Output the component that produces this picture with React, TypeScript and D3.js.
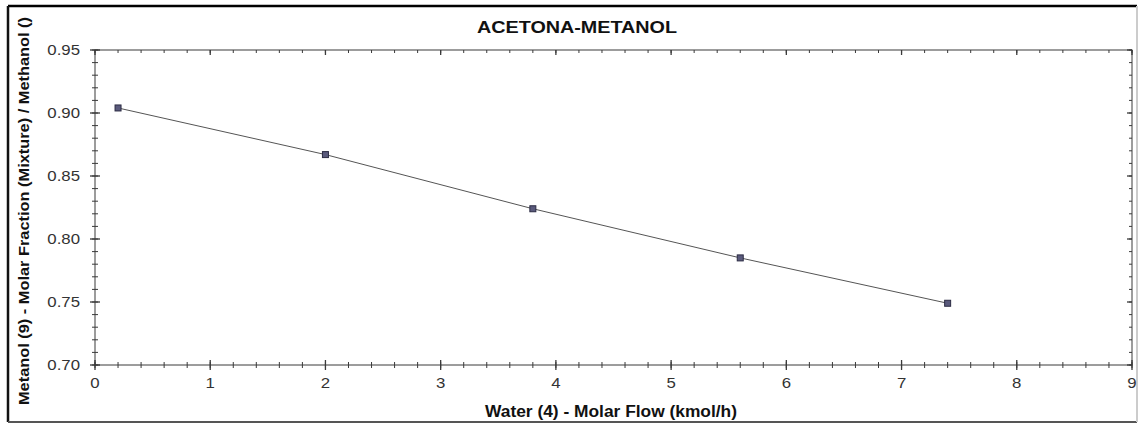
import React from 'react';
import * as d3 from 'd3';

// Data
const waterFlow = [0.2, 2.0, 3.8, 5.6, 7.4];
const metanolFraction = [0.904, 0.867, 0.824, 0.785, 0.749];
const xTickLabels = ['0', '1', '2', '3', '4', '5', '6', '7', '8', '9'];
const yTickLabels = ['0.70', '0.75', '0.80', '0.85', '0.90', '0.95'];

const title = 'ACETONA-METANOL';
const xTitle = 'Water (4) - Molar Flow (kmol/h)';
const yTitle = 'Metanol (9) - Molar Fraction (Mixture) / Methanol ()';

const W = 1140;
const H = 424;
const margin = { top: 50, right: 8, bottom: 59, left: 95 };
const font = '"Liberation Sans", Arial, sans-serif';

export default function App() {
  const x = d3.scaleLinear().domain([0, 9]).range([margin.left, W - margin.right]);
  const y = d3.scaleLinear().domain([0.7, 0.95]).range([H - margin.bottom, margin.top]);

  const [x0, x1] = x.range();
  const [y0, y1] = y.range(); // y0 bottom, y1 top

  const xMajor = xTickLabels.map(Number);
  const xMinor = d3.range(0, 45 + 1).map(i => i * 0.2);
  const yMajor = yTickLabels.map(Number);
  const yMinor = d3.range(0, 25 + 1).map(i => 0.7 + i * 0.01);

  const points = waterFlow.map((v, i) => [v, metanolFraction[i]] as [number, number]);
  const line = d3.line<[number, number]>().x(d => x(d[0])).y(d => y(d[1]));

  const axisColor = '#3a3a3a';

  return (
    <svg
      width={W}
      height={H}
      style={{ position: 'absolute', left: 0, top: 0, background: '#fff' }}
    >
      {/* outer frame */}
      <line x1={8} y1={6} x2={1137} y2={6} stroke="#000" strokeWidth={2.5} />
      <line x1={8} y1={6} x2={8} y2={422} stroke="#111" strokeWidth={2.5} />
      <line x1={8} y1={422} x2={1137} y2={422} stroke="#555" strokeWidth={2} />
      <line x1={1137} y1={6} x2={1137} y2={422} stroke="#ccc" strokeWidth={2} />

      {/* title */}
      <text
        x={577}
        y={33}
        textAnchor="middle"
        fontFamily={font}
        fontWeight="bold"
        fontSize={16}
        textLength={200}
        lengthAdjust="spacingAndGlyphs"
        fill="#111"
      >
        {title}
      </text>

      {/* plot box */}
      <rect x={x0} y={y1} width={x1 - x0} height={y0 - y1} fill="none" stroke={axisColor} strokeWidth={1} />

      {/* bottom axis ticks (cross the line) */}
      {xMinor.map(v => (
        <line key={'xb' + v} x1={x(v)} x2={x(v)} y1={y0 - 3} y2={y0 + 3} stroke={axisColor} strokeWidth={1} />
      ))}
      {xMajor.map(v => (
        <line key={'xbM' + v} x1={x(v)} x2={x(v)} y1={y0 - 5} y2={y0 + 5} stroke={axisColor} strokeWidth={1.3} />
      ))}
      {/* top axis ticks (inward) */}
      {xMinor.map(v => (
        <line key={'xt' + v} x1={x(v)} x2={x(v)} y1={y1} y2={y1 + 3} stroke={axisColor} strokeWidth={1} />
      ))}
      {xMajor.map(v => (
        <line key={'xtM' + v} x1={x(v)} x2={x(v)} y1={y1} y2={y1 + 5} stroke={axisColor} strokeWidth={1.3} />
      ))}

      {/* left axis ticks (cross the line) */}
      {yMinor.map(v => (
        <line key={'yl' + v} x1={x0 - 3} x2={x0 + 3} y1={y(v)} y2={y(v)} stroke={axisColor} strokeWidth={1} />
      ))}
      {yMajor.map(v => (
        <line key={'ylM' + v} x1={x0 - 5} x2={x0 + 5} y1={y(v)} y2={y(v)} stroke={axisColor} strokeWidth={1.3} />
      ))}
      {/* right axis ticks (inward) */}
      {yMinor.map(v => (
        <line key={'yr' + v} x1={x1 - 3} x2={x1} y1={y(v)} y2={y(v)} stroke={axisColor} strokeWidth={1} />
      ))}
      {yMajor.map(v => (
        <line key={'yrM' + v} x1={x1 - 5} x2={x1} y1={y(v)} y2={y(v)} stroke={axisColor} strokeWidth={1.3} />
      ))}

      {/* tick labels */}
      {xTickLabels.map(t => (
        <text
          key={'xl' + t}
          transform={`translate(${x(+t)},${y0 + 23}) scale(1.2,1)`}
          textAnchor="middle"
          fontFamily={font}
          fontSize={14}
          fill="#333"
        >
          {t}
        </text>
      ))}
      {yTickLabels.map(t => (
        <text
          key={'yl' + t}
          transform={`translate(${x0 - 15},${y(+t) + 5}) scale(1.2,1)`}
          textAnchor="end"
          fontFamily={font}
          fontSize={14}
          fill="#333"
        >
          {t}
        </text>
      ))}

      {/* axis titles */}
      <text
        x={611}
        y={417}
        textAnchor="middle"
        fontFamily={font}
        fontWeight="bold"
        fontSize={16}
        textLength={252}
        lengthAdjust="spacingAndGlyphs"
        fill="#111"
      >
        {xTitle}
      </text>
      <text
        transform="translate(29,211) rotate(-90)"
        textAnchor="middle"
        fontFamily={font}
        fontWeight="bold"
        fontSize={14}
        textLength={388}
        lengthAdjust="spacingAndGlyphs"
        fill="#111"
      >
        {yTitle}
      </text>

      {/* series */}
      <path d={line(points) || ''} fill="none" stroke="#555" strokeWidth={1} />
      {points.map((d, i) => (
        <rect
          key={'p' + i}
          x={x(d[0]) - 3}
          y={y(d[1]) - 3}
          width={6}
          height={6}
          fill="#5a5a7c"
          stroke="#2c2c44"
          strokeWidth={1}
        />
      ))}
    </svg>
  );
}
